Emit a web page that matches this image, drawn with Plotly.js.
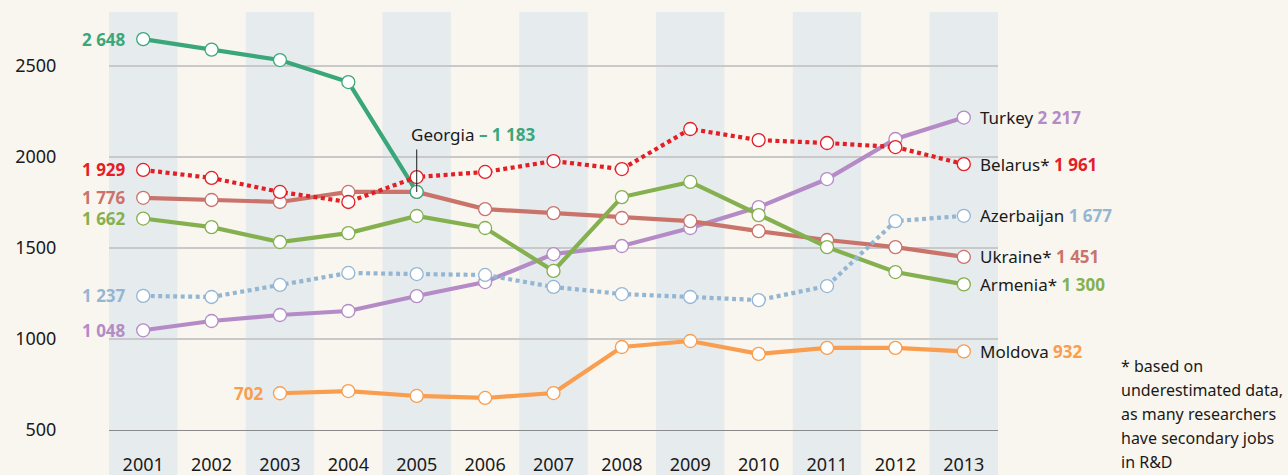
<!DOCTYPE html>
<html>
<head>
<meta charset="utf-8">
<script src="https://cdn.plot.ly/plotly-3.0.1.min.js"></script>
<style>
html,body{margin:0;padding:0;background:#f9f6ef;}
#chart{width:1288px;height:475px;}
</style>
</head>
<body>
<div id="chart"></div>
<script>
// ---- data ----
const years = [2001,2002,2003,2004,2005,2006,2007,2008,2009,2010,2011,2012,2013];
const yTicks = [500,1000,1500,2000,2500];

const georgia    = [2648,2590,2533,2412,1808,null,null,null,null,null,null,null,null];
const belarus    = [1929,1885,1808,1753,1890,1918,1978,1934,2154,2093,2077,2055,1961];
const ukraine    = [1776,1764,1753,1808,1808,1714,1692,1665,1648,1593,1544,1505,1451];
const armenia    = [1662,1615,1533,1582,1676,1610,1374,1780,1863,1681,1505,1368,1300];
const azerbaijan = [1237,1231,1297,1363,1357,1352,1286,1247,1231,1214,1291,1648,1677];
const turkey     = [1048,1099,1132,1154,1236,1313,1467,1511,1610,1725,1879,2099,2217];
const moldova    = [null,null,702,714,687,676,703,956,989,918,951,951,932];

const seriesNames = ["Moldova","Turkey","Ukraine*","Armenia*","Azerbaijan","Georgia","Belarus*"];
const seriesData  = [moldova, turkey, ukraine, armenia, azerbaijan, georgia, belarus];
const seriesColors = ["#f99d4e","#b48bc6","#c9736b","#85b04f","#94b6d3","#3aa77a","#e31e24"];
const seriesDash   = ["solid","solid","solid","solid","dot","solid","dot"];
const showRightLabel = [true,true,true,true,true,false,true];

const georgiaLabel = "Georgia";
const georgiaValueText = "– 1 183";
const georgiaLabelYear = 2005;

const noteLines = ["* based on","underestimated data,","as many researchers","have secondary jobs","in R&amp;D"];

// ---- helpers ----
function fmt(v){ return String(v).replace(/\B(?=(\d{3})+(?!\d))/g, " "); }

const FONT = "Noto Sans, Open Sans, sans-serif";

const traces = seriesData.map((d,i)=>({
  type:"scatter", mode:"lines+markers", x:years, y:d, name:seriesNames[i],
  connectgaps:false, hoverinfo:"skip",
  line:{color:seriesColors[i], width:4.2, dash: seriesDash[i]==="dot" ? "4px,3.5px" : "solid"},
  marker:{size:13, color:"#ffffff", line:{color:seriesColors[i], width:1.3}}
}));

const shapes = years.filter((y,i)=>i%2===0).map(y=>({
  type:"rect", xref:"x", yref:"paper", x0:y-0.5, x1:y+0.5, y0:-0.2, y1:1,
  fillcolor:"#e6ebed", line:{width:0}, layer:"below"
}));

const annotations = [];
// left-side start labels
seriesData.forEach((d,i)=>{
  let idx = d.findIndex(v=>v!==null);
  annotations.push({
    xref:"x", yref:"y", x:years[idx], y:d[idx], xanchor:"right", yanchor:"middle",
    xshift:-16, showarrow:false, borderpad:0,
    text:"<b>"+fmt(d[idx])+"</b>",
    font:{family:FONT, size:17, color:seriesColors[i]}
  });
});
// right-side end labels
seriesData.forEach((d,i)=>{
  if(!showRightLabel[i]) return;
  const last = d.length-1;
  annotations.push({
    xref:"x", yref:"y", x:years[last], y:d[last], xanchor:"left", yanchor:"middle",
    xshift:15, showarrow:false, borderpad:0,
    text:seriesNames[i]+" <b><span style='color:"+seriesColors[i]+"'>"+fmt(d[last])+"</span></b>",
    font:{family:FONT, size:17, color:"#1a1a1a"}
  });
});
// Georgia callout
const gi = years.indexOf(georgiaLabelYear);
const gColor = seriesColors[seriesNames.indexOf("Georgia")];
annotations.push({
  xref:"x", yref:"y", x:georgiaLabelYear, y:georgia[gi], showarrow:true,
  ax:0, ay:-44, arrowhead:0, arrowwidth:1, arrowcolor:"#1a1a1a", standoff:0, startstandoff:0,
  text:"", font:{size:1}
});
annotations.push({
  xref:"x", yref:"y", x:georgiaLabelYear, y:georgia[gi], xanchor:"left", yanchor:"middle",
  xshift:-7, yshift:57, showarrow:false, borderpad:0,
  text:georgiaLabel+" <b><span style='color:"+gColor+"'>"+georgiaValueText+"</span></b>",
  font:{family:FONT, size:17, color:"#1a1a1a"}
});
// footnote
noteLines.forEach((t,i)=>{
  annotations.push({
    xref:"paper", yref:"paper", x:1.137, y:0.153 - i*0.0575, xanchor:"left", yanchor:"middle",
    showarrow:false, borderpad:0, text:t, font:{family:FONT, size:16, color:"#1a1a1a"}
  });
});

const layout = {
  width:1288, height:475,
  margin:{l:109, r:290, t:12, b:45},
  paper_bgcolor:"#f9f6ef", plot_bgcolor:"#f9f6ef",
  showlegend:false,
  font:{family:FONT, color:"#1a1a1a"},
  xaxis:{
    range:[years[0]-0.5, years[years.length-1]+0.5],
    tickmode:"array", tickvals:years, ticktext:years.map(String),
    showgrid:false, zeroline:false,
    showline:true, linecolor:"#8a8a8a", linewidth:1.2,
    ticks:"outside", ticklen:18, tickcolor:"rgba(0,0,0,0)",
    tickfont:{family:FONT, size:18, color:"#1a1a1a"}, fixedrange:true
  },
  yaxis:{
    range:[500, 2797],
    tickmode:"array", tickvals:yTicks, ticktext:yTicks.map(String),
    showgrid:true, gridcolor:"#c9c9c9", gridwidth:1.2, zeroline:false, showline:false,
    ticks:"outside", ticklen:48, tickcolor:"rgba(0,0,0,0)",
    tickfont:{family:FONT, size:18, color:"#1a1a1a"}, fixedrange:true
  },
  shapes:shapes,
  annotations:annotations
};

Plotly.newPlot("chart", traces, layout, {displayModeBar:false, staticPlot:true});
</script>
</body>
</html>
